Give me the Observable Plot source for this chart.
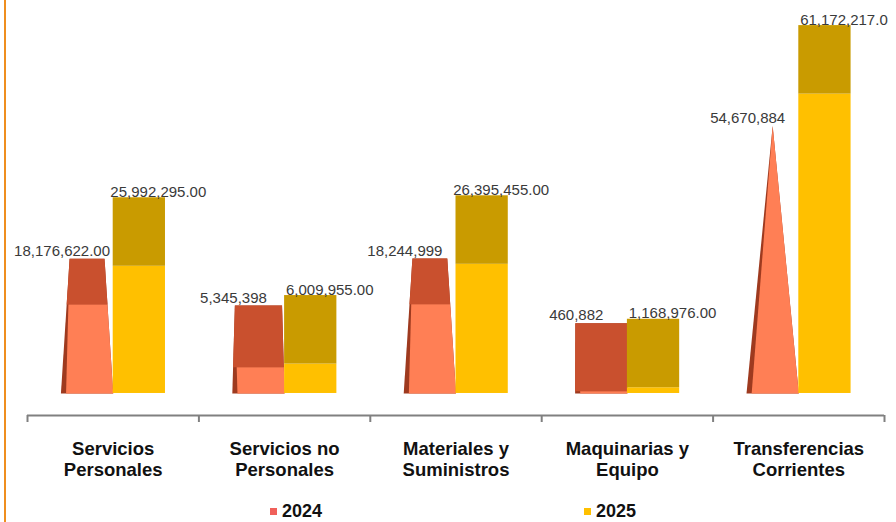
<!DOCTYPE html>
<html>
<head>
<meta charset="utf-8">
<script src="https://cdn.jsdelivr.net/npm/d3@7"></script>
<script src="https://cdn.jsdelivr.net/npm/@observablehq/plot@0.6"></script>
<style>
  html, body { margin: 0; padding: 0; background: #ffffff; }
  #wrap { position: relative; width: 896px; height: 522px; overflow: hidden; background: #fff; }
  #edge { position: absolute; left: 4px; top: 0; width: 2px; height: 522px; background: #EF8E1F; z-index: 2; }
  #legend { position: relative; height: 27px; font: bold 18px 'Liberation Sans', Arial, sans-serif; color: #111; }
  #legend .sw { position: absolute; top: 13px; width: 7px; height: 7px; }
  #legend .lb { position: absolute; top: 7px; line-height: 18px; }
</style>
</head>
<body>
<div id="wrap"><div id="edge"></div><div id="chart"></div><div id="legend"></div></div>
<script>
// ---- data ----
const categories = ["Servicios\nPersonales", "Servicios no\nPersonales", "Materiales y\nSuministros", "Maquinarias y\nEquipo", "Transferencias\nCorrientes"];
const years = ["2024", "2025"];
const values2024 = [18176622, 5345398, 18244999, 460882, 54670884];
const values2025 = [25992295, 6009955, 26395455, 1168976, 61172217];
const labels2024 = ["18,176,622.00", "5,345,398", "18,244,999", "460,882", "54,670,884"];
const labels2025 = ["25,992,295.00", "6,009,955.00", "26,395,455.00", "1,168,976.00", "61,172,217.0"];

// ---- styling constants (pseudo-3D look) ----
const CAP = 14e6;                 // depth of the 3D top face, in value units
const Y_MIN = -4.5e6, Y_MAX = 80.3e6;
const FONT = "'Liberation Sans', Arial, sans-serif";
const C24 = {light: "#FF7F55", cap: "#C9502E", side: "#9E3A1F", swatch: "#F0605A"};
const C25 = {light: "#FFC000", cap: "#C99B00", swatch: "#FFC000"};
const W = 0.305;                  // bar width in category units

// ---- geometry built from data ----
const M24 = d3.max(values2024);
const pts = [];  // polygon vertices for the 2024 cones
const labs24 = [];
values2024.forEach((v, i) => {
  const x0 = i + 0.195, x1 = x0 + W, cx = x0 + W / 2;
  const t = 1 - v / M24;
  const wt = W * t, yt = v + CAP * t;
  const xl = y => x0 + (cx - wt / 2 - x0) * (y / yt);
  const xr = y => x1 + (cx + wt / 2 - x1) * (y / yt);
  const poly = (id, kind, arr) => arr.forEach(([x, y]) => pts.push({id, kind, x, y}));
  poly("s" + i, "side", [[x0, 0], [xl(yt), yt], [xr(yt), yt], [x1, 0]]);
  poly("c" + i, "cap", [[xl(v), v], [xl(yt), yt], [xr(yt), yt], [xr(v), v]]);
  const inset = 0.03 * (1 - v / yt);
  poly("l" + i, "light", [[x0 + 0.03, 0], [xl(v) + inset, v], [xr(v), v], [x1, 0]]);
  labs24.push({x: cx, y: yt, text: labels2024[i]});
});
const bars25 = values2025.map((v, i) => ({x1: i + 0.5, x2: i + 0.5 + W, v, text: labels2025[i]}));

const chart = Plot.plot({
  width: 896, height: 495,
  marginLeft: 27, marginRight: 12, marginTop: 0, marginBottom: 80,
  x: {domain: [0, 5]},
  y: {domain: [Y_MIN, Y_MAX], axis: null},
  style: {fontFamily: FONT, background: "white", overflow: "visible"},
  marks: [
    Plot.ruleY([Y_MIN], {stroke: "#808080", strokeWidth: 2}),
    Plot.axisX({ticks: d3.range(6), tickSize: 7, tickFormat: () => "", stroke: "#808080", strokeWidth: 2}),
    Plot.line(pts.filter(d => d.kind === "side"), {x: "x", y: "y", z: "id", fill: C24.side, stroke: "none"}),
    Plot.line(pts.filter(d => d.kind === "cap"), {x: "x", y: "y", z: "id", fill: C24.cap, stroke: "none"}),
    Plot.line(pts.filter(d => d.kind === "light"), {x: "x", y: "y", z: "id", fill: C24.light, stroke: "none"}),
    Plot.rect(bars25, {x1: "x1", x2: "x2", y1: 0, y2: "v", fill: C25.light}),
    Plot.rect(bars25, {x1: "x1", x2: "x2", y1: "v", y2: d => d.v + CAP, fill: C25.cap}),
    Plot.text(labs24, {x: "x", y: "y", text: "text", dx: -25, dy: -3, lineAnchor: "bottom", fontSize: 15, fill: "#3a3a3a"}),
    Plot.text(bars25, {x: d => (d.x1 + d.x2) / 2, y: d => d.v + CAP, text: "text", dx: 19, dy: -1, lineAnchor: "bottom", fontSize: 15, fill: "#3a3a3a"}),
    Plot.text(categories, {x: (d, i) => i + 0.5, text: d => d, frameAnchor: "bottom", lineAnchor: "top", dy: 25,
      fontSize: 18.5, fontWeight: "bold", lineHeight: 1.135, fill: "#111"})
  ]
});
document.getElementById("chart").appendChild(chart);

// ---- legend ----
const legend = document.getElementById("legend");
const legendPos = [270, 584];
const swatches = [C24.swatch, C25.swatch];
years.forEach((y, i) => {
  const sw = document.createElement("span");
  sw.className = "sw"; sw.style.left = legendPos[i] + "px"; sw.style.background = swatches[i];
  const lb = document.createElement("span");
  lb.className = "lb"; lb.style.left = (legendPos[i] + 12) + "px"; lb.textContent = y;
  legend.appendChild(sw); legend.appendChild(lb);
});
</script>
</body>
</html>
